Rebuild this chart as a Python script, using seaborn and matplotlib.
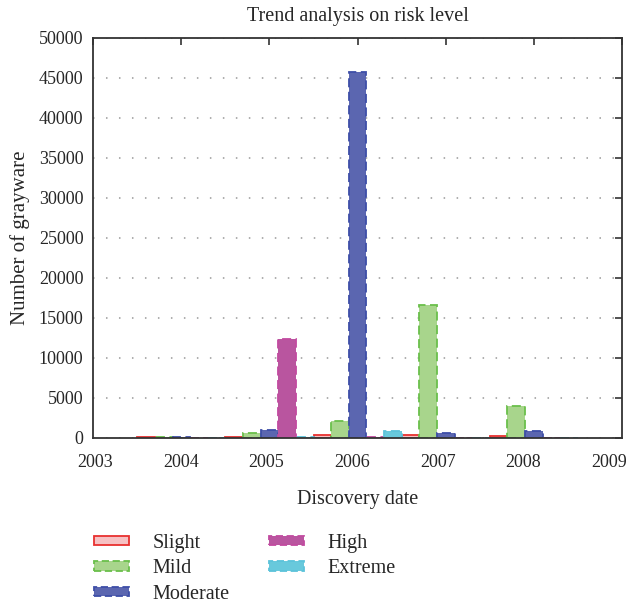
import pandas as pd
import matplotlib
matplotlib.use("Agg")
import matplotlib.pyplot as plt
import matplotlib.patches as mpatches
import matplotlib.transforms as mtrans
import seaborn as sns

# datos
anios = [2004, 2005, 2006, 2007, 2008]
niveles = ["Slight", "Mild", "Moderate", "High", "Extreme"]
slight = [40, 150, 300, 350, 250]
mild = [80, 550, 2050, 16600, 4000]
moderate = [50, 950, 45800, 600, 900]
high = [0, 12400, 60, 0, 0]
extreme = [0, 40, 900, 20, 30]

relleno = ["#f6c1c3", "#a8d58c", "#5b66b0", "#b9559f", "#68c9dc"]
borde = ["#e8302f", "#6abf4b", "#3e4ea8", "#c24aa0", "#5cc3da"]

df = pd.DataFrame({
    "anio": anios * 5,
    "nivel": sum([[n] * 5 for n in niveles], []),
    "valor": slight + mild + moderate + high + extreme,
})

sns.set_style("white")
plt.rcParams["font.family"] = ["Liberation Serif", "DejaVu Serif"]
plt.rcParams["font.size"] = 12

fig = plt.figure(figsize=(6.34, 6.03), dpi=100)
ax = fig.add_axes([0.147, 0.274, 0.834, 0.663])

sns.barplot(data=df, x="anio", y="valor", hue="nivel", hue_order=niveles,
            palette=relleno, saturation=1, native_scale=True, width=1.0,
            errorbar=None, ax=ax, legend=False)

# bordes punteados del mismo color
for cont, ec, niv in zip(ax.containers, borde, niveles):
    for p in cont:
        p.set_edgecolor(ec)
        p.set_linewidth(1.3)
        if niv != "Slight":
            p.set_linestyle((0, (5, 2.5)))

ax.set_xlim(2003, 2009)
ax.set_ylim(0, 50000)
ax.set_xticks(range(2003, 2010))
ax.set_xticklabels([str(a) for a in range(2003, 2010)])
ax.set_yticks(range(0, 50001, 5000))
ax.grid(axis="y", linestyle=(0, (1, 7.5)), color="#999999", linewidth=1.1)
ax.grid(axis="x", visible=False)
ax.tick_params(direction="in", top=True, right=True, length=5, width=1.2,
               labelsize=13, color="#333333")
ax.tick_params(axis="x", pad=12)
ax.tick_params(axis="y", pad=7)
for s in ax.spines.values():
    s.set_color("#333333")
    s.set_linewidth(1.3)

# las etiquetas del eje x quedan algo corridas a la izquierda en el original
for i, lab in enumerate(ax.get_xticklabels()):
    dx = (2 - 2.5 * i) / 100.0
    lab.set_transform(lab.get_transform() + mtrans.ScaledTranslation(dx, 0, fig.dpi_scale_trans))

ax.set_title("Trend analysis on risk level", fontsize=14.5, pad=12)
ax.set_xlabel("Discovery date", fontsize=14.5, labelpad=13)
ax.set_ylabel("Number of grayware", fontsize=15, labelpad=6)

handles = []
for i, niv in enumerate(niveles):
    ls = "-" if niv == "Slight" else (0, (4, 2))
    handles.append(mpatches.Patch(facecolor=relleno[i], edgecolor=borde[i],
                                  linewidth=1.3, linestyle=ls, label=niv))
fig.legend(handles=handles, loc="upper left", ncol=2,
           bbox_to_anchor=(0.148, 0.115), frameon=False, fontsize=14.5,
           handlelength=1.75, handleheight=0.35, handletextpad=1.15,
           columnspacing=1.95, labelspacing=0.33, borderaxespad=0,
           borderpad=0)

fig.savefig("out.png", dpi=100)
